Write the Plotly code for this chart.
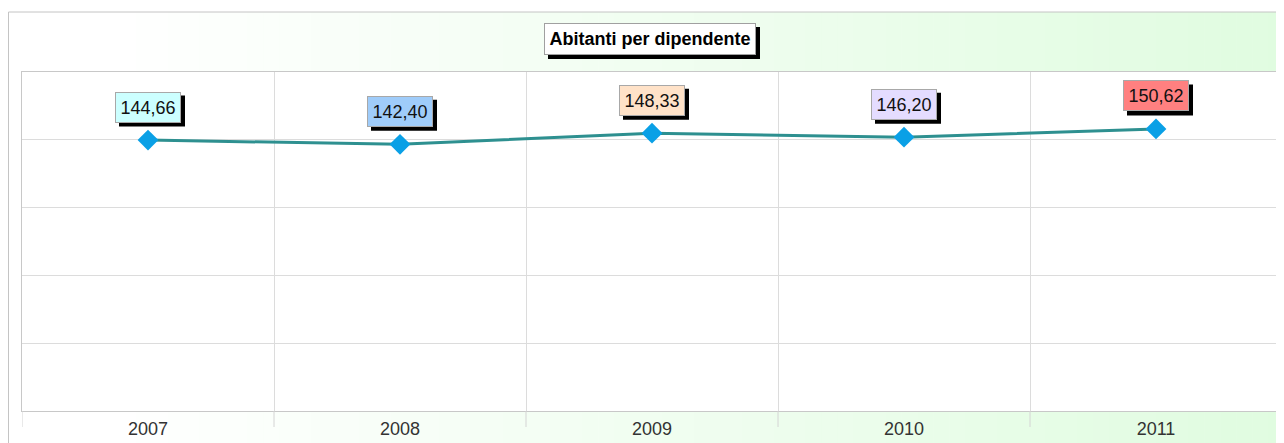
import plotly.graph_objects as go

years = ["2007", "2008", "2009", "2010", "2011"]
values = [144.66, 142.40, 148.33, 146.20, 150.62]
labels = ["144,66", "142,40", "148,33", "146,20", "150,62"]
label_colors = ["#CCFFFF", "#9FCCFA", "#FFE2C8", "#E4DCFF", "#FF8080"]
title_text = "Abitanti per dipendente"

OFF = 8  # page body margin
W, H = 1284 - OFF, 443 - OFF
PL, PR, PT, PB = 22, 1282, 72, 411  # plot area in page pixels

def px(x):
    return (x - OFF) / W

def py(y):
    return 1 - (y - OFF) / H

FONT = "Liberation Sans, Arial, sans-serif"

fig = go.Figure()
fig.add_trace(go.Scatter(
    x=years, y=values, mode="lines+markers",
    line=dict(color="#2E9090", width=3),
    marker=dict(symbol="diamond", size=16, color="#0AA0E6", line=dict(width=0)),
    hoverinfo="skip", showlegend=False,
))

shapes = []
# outer gradient background (white -> light green)
x_start, x_end = 8, 1284
n = 80
c0 = (255, 255, 255)
c1 = (224, 252, 224)
g0 = 110
for i in range(n):
    xa = x_start + (x_end - x_start) * i / n
    xb = x_start + (x_end - x_start) * (i + 1) / n
    xm = (xa + xb) / 2
    t = max(0.0, min(1.0, (xm - g0) / (1284 - g0)))
    c = tuple(round(c0[k] + (c1[k] - c0[k]) * t) for k in range(3))
    shapes.append(dict(type="rect", xref="paper", yref="paper",
                       x0=px(xa), x1=px(xb) + 0.0005, y0=py(443), y1=py(12),
                       fillcolor="rgb(%d,%d,%d)" % c, line=dict(width=0), layer="below"))
# outer frame border
shapes.append(dict(type="rect", xref="paper", yref="paper",
                   x0=px(8.5), x1=px(1283), y0=py(450), y1=py(12),
                   line=dict(color="#C4C4C4", width=1), fillcolor="rgba(0,0,0,0)", layer="below"))
# white plot area
shapes.append(dict(type="rect", xref="paper", yref="paper",
                   x0=px(PL), x1=px(PR), y0=py(PB), y1=py(PT),
                   fillcolor="white", line=dict(width=0), layer="below"))
# boundary tick marks below the axis
for k in range(len(years) + 1):
    shapes.append(dict(type="line", xref="x", yref="paper",
                       x0=k - 0.5, x1=k - 0.5, y0=py(PB), y1=py(PB + 16),
                       line=dict(color="#D4D4D4", width=1)))

annotations = []
# title box and its shadow
TW, TH = 212, 32
shapes.append(dict(type="rect", xref="paper", yref="paper",
                   x0=px(650 - TW / 2 + 4), x1=px(650 + TW / 2 + 4),
                   y0=py(39 + TH / 2 + 4), y1=py(39 - TH / 2 + 4),
                   fillcolor="black", line=dict(width=0), layer="above"))
annotations.append(dict(xref="paper", yref="paper", x=px(650), y=py(39),
                        xanchor="center", yanchor="middle",
                        text="<b>" + title_text + "</b>", showarrow=False,
                        font=dict(family=FONT, size=18, color="black"),
                        bgcolor="white", bordercolor="#A0A0A0", borderwidth=1,
                        width=TW - 8, height=TH - 8, borderpad=3))
# value labels with shadows
LW, LH, LY = 66, 31, 33
for i, (v, lab, col) in enumerate(zip(values, labels, label_colors)):
    shapes.append(dict(type="rect", xref="x", yref="y",
                       xsizemode="pixel", ysizemode="pixel", xanchor=i, yanchor=v,
                       x0=-LW / 2 + 4, x1=LW / 2 + 4,
                       y0=LY - 4 - LH / 2, y1=LY - 4 + LH / 2,
                       fillcolor="black", line=dict(width=0), layer="above"))
    annotations.append(dict(x=i, y=v, xref="x", yref="y", text=lab, showarrow=False,
                            xanchor="center", yanchor="middle",
                            xshift=0, yshift=LY,
                            font=dict(family=FONT, size=18, color="#111111"),
                            bgcolor=col, bordercolor="#A8A8A8", borderwidth=1,
                            width=LW - 8, height=LH - 8, borderpad=3))

ymax = 181.0
fig.update_layout(
    width=W, height=H, autosize=False,
    margin=dict(l=0, r=0, t=0, b=0),
    paper_bgcolor="white", plot_bgcolor="white",
    shapes=shapes, annotations=annotations,
    xaxis=dict(domain=[px(PL), px(PR)], type="category", range=[-0.5, 4.5],
               tickson="boundaries", showgrid=True, gridcolor="#DCDCDC", gridwidth=1,
               ticks="", showline=True, linecolor="#C8C8C8", linewidth=1, mirror=True,
               tickfont=dict(family=FONT, size=18, color="#333333"),
               ticklabelstandoff=1, zeroline=False, fixedrange=True),
    yaxis=dict(domain=[py(PB), py(PT)], range=[0, ymax], tick0=0, dtick=ymax / 5,
               showgrid=True, gridcolor="#DCDCDC", gridwidth=1,
               showticklabels=False, ticks="", showline=True, linecolor="#C8C8C8",
               linewidth=1, mirror=True, zeroline=False, fixedrange=True),
    showlegend=False,
)

fig.write_html("out.html")
